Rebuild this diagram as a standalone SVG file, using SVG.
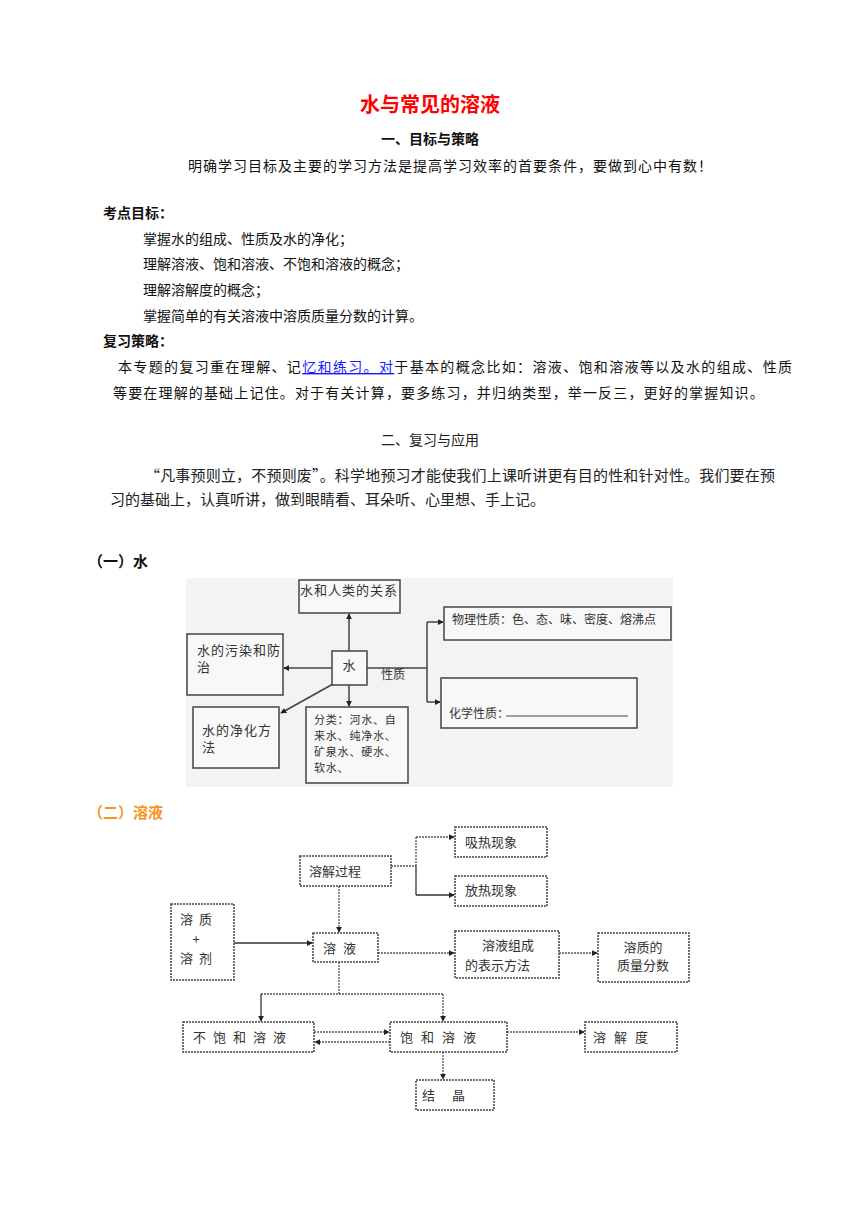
<svg xmlns="http://www.w3.org/2000/svg" width="860" height="1216" viewBox="0 0 860 1216">
<style>
text{font-family:"Noto Sans CJK SC","Noto Sans",sans-serif;fill:#111}
.b{font-weight:bold}
.p{font-size:14px}
.w{font-size:13px;fill:#333}
.ws{font-size:12px;fill:#333}
.wt{font-size:11px;fill:#333;letter-spacing:0.8px}
.s{font-size:13px;fill:#333}
.wb{fill:#f8f8f8;stroke:#444;stroke-width:1.5}
.sb{fill:#fff;stroke:#444;stroke-width:1.5;stroke-dasharray:2 1}
.wc{fill:none;stroke:#444;stroke-width:1.5}
.sc{fill:none;stroke:#555;stroke-width:1.3;stroke-dasharray:2 1}
.ss{fill:none;stroke:#333;stroke-width:1.3}
</style>
<defs>
<marker id="a" viewBox="0 0 8 8" refX="7" refY="4" markerWidth="6" markerHeight="6" markerUnits="userSpaceOnUse" orient="auto"><path d="M0,0 L8,4 L0,8 z" fill="#222"/></marker>
</defs>
<rect width="860" height="1216" fill="#fff"/>
<!-- header text -->
<text x="430" y="112" text-anchor="middle" class="b" style="font-size:20px;fill:#f00">水与常见的溶液</text>
<text x="430" y="144" text-anchor="middle" class="b" style="font-size:14px">一、目标与策略</text>
<text x="188" y="171" class="p" textLength="524" lengthAdjust="spacing">明确学习目标及主要的学习方法是提高学习效率的首要条件，要做到心中有数！</text>
<text x="103" y="218" class="p b">考点目标：</text>
<text x="143" y="244" class="p">掌握水的组成、性质及水的净化；</text>
<text x="143" y="269" class="p">理解溶液、饱和溶液、不饱和溶液的概念；</text>
<text x="143" y="295" class="p">理解溶解度的概念；</text>
<text x="143" y="321" class="p">掌握简单的有关溶液中溶质质量分数的计算。</text>
<text x="103" y="346" class="p b">复习策略：</text>
<text x="118" y="372" class="p" style="letter-spacing:1.35px">本专题的复习重在理解、记<tspan style="fill:#1a1aff;text-decoration:underline">忆和练习。对</tspan>于基本的概念比如：溶液、饱和溶液等以及水的组成、性质</text>
<text x="113" y="398" class="p" style="letter-spacing:1.16px">等要在理解的基础上记住。对于有关计算，要多练习，并归纳类型，举一反三，更好的掌握知识。</text>
<text x="430" y="445" text-anchor="middle" style="font-size:14px;fill:#222">二、复习与应用</text>
<text x="145" y="481" style="font-size:15px;fill:#222" textLength="630" lengthAdjust="spacing">“凡事预则立，不预则废”。科学地预习才能使我们上课听讲更有目的性和针对性。我们要在预</text>
<text x="110" y="505" style="font-size:15px;fill:#222" textLength="435" lengthAdjust="spacing">习的基础上，认真听讲，做到眼睛看、耳朵听、心里想、手上记。</text>
<text x="88" y="567" class="b" style="font-size:15px">（一）水</text>
<text x="88" y="818" class="b" style="font-size:15px;fill:#f7941d">（二）溶液</text>

<!-- water diagram -->
<rect x="186" y="578" width="487" height="209" fill="#f3f3f3"/>
<g id="connectors-water">
<line x1="349" y1="651" x2="349" y2="614" class="wc" marker-end="url(#a)"/>
<line x1="332" y1="668" x2="284" y2="668" class="wc" marker-end="url(#a)"/>
<line x1="333" y1="684" x2="281" y2="713" class="wc" marker-end="url(#a)"/>
<line x1="349" y1="685" x2="349" y2="706" class="wc" marker-end="url(#a)"/>
<path d="M367,668 H427 M427,622 V702" class="wc"/>
<line x1="427" y1="622" x2="443" y2="622" class="wc" marker-end="url(#a)"/>
<line x1="427" y1="702" x2="440" y2="702" class="wc" marker-end="url(#a)"/>
<text x="381" y="679" class="ws">性质</text>
</g>
<g id="w-relation"><rect x="299" y="580" width="101" height="33" class="wb"/><text x="300" y="595" class="w" style="letter-spacing:1px">水和人类的关系</text></g>
<g id="w-pollution"><rect x="187" y="634" width="96" height="61" class="wb"/><text x="197" y="655" class="w" style="letter-spacing:1px">水的污染和防</text><text x="197" y="672" class="w">治</text></g>
<g id="w-water"><rect x="332" y="651" width="35" height="34" class="wb"/><text x="349" y="670" text-anchor="middle" class="w">水</text></g>
<g id="w-purify"><rect x="193" y="707" width="86" height="61" class="wb"/><text x="202" y="735" class="w" style="letter-spacing:1px">水的净化方</text><text x="202" y="752" class="w">法</text></g>
<g id="w-class"><rect x="306" y="707" width="102" height="76" class="wb"/>
<text x="314" y="724" class="wt">分类：河水、自</text><text x="314" y="740" class="wt">来水、纯净水、</text><text x="314" y="756" class="wt">矿泉水、硬水、</text><text x="314" y="772" class="wt">软水、</text></g>
<g id="w-physical"><rect x="444" y="607" width="227" height="33" class="wb"/><text x="452" y="624" class="ws">物理性质：色、态、味、密度、熔沸点</text></g>
<g id="w-chemical"><rect x="441" y="678" width="196" height="50" class="wb"/><text x="449" y="718" class="ws">化学性质：</text><line x1="506" y1="716" x2="628" y2="716" stroke="#444" stroke-width="1"/></g>

<!-- solution diagram -->
<g id="connectors-solution">
<path d="M391,866 H416 M416,837 V866" class="sc"/>
<path d="M416,866 V895" class="ss"/>
<line x1="416" y1="837" x2="454" y2="837" class="sc" marker-end="url(#a)"/>
<line x1="416" y1="895" x2="454" y2="895" class="ss" marker-end="url(#a)"/>
<line x1="339" y1="886" x2="339" y2="932" class="sc" marker-end="url(#a)"/>
<line x1="234" y1="943" x2="312" y2="943" class="ss" marker-end="url(#a)"/>
<line x1="378" y1="953" x2="454" y2="953" class="sc" marker-end="url(#a)"/>
<line x1="559" y1="953" x2="597" y2="953" class="sc" marker-end="url(#a)"/>
<path d="M339,962 V994 M261,994 H443" class="sc"/>
<line x1="261" y1="994" x2="261" y2="1021" class="ss" marker-end="url(#a)"/>
<line x1="443" y1="994" x2="443" y2="1021" class="sc" marker-end="url(#a)"/>
<line x1="314" y1="1032" x2="389" y2="1032" class="sc" marker-end="url(#a)"/>
<line x1="390" y1="1042" x2="315" y2="1042" class="sc" marker-end="url(#a)"/>
<line x1="507" y1="1032" x2="584" y2="1032" class="sc" marker-end="url(#a)"/>
<line x1="443" y1="1052" x2="443" y2="1079" class="sc" marker-end="url(#a)"/>
</g>
<g id="s-process"><rect x="300" y="856" width="91" height="30" class="sb"/><text x="309" y="876" class="s">溶解过程</text></g>
<g id="s-absorb"><rect x="455" y="827" width="92" height="30" class="sb"/><text x="465" y="847" class="s">吸热现象</text></g>
<g id="s-release"><rect x="455" y="876" width="92" height="30" class="sb"/><text x="465" y="895" class="s">放热现象</text></g>
<g id="s-solute"><rect x="171" y="904" width="63" height="76" class="sb"/><text x="180" y="924" class="s" style="letter-spacing:6px">溶质</text><text x="196" y="944" text-anchor="middle" class="s">+</text><text x="180" y="963" class="s" style="letter-spacing:6px">溶剂</text></g>
<g id="s-solution"><rect x="313" y="933" width="65" height="29" class="sb"/><text x="323" y="953" class="s" style="letter-spacing:7px">溶液</text></g>
<g id="s-composition"><rect x="455" y="931" width="104" height="47" class="sb"/><text x="482" y="950" class="s">溶液组成</text><text x="465" y="970" class="s">的表示方法</text></g>
<g id="s-fraction"><rect x="598" y="933" width="91" height="49" class="sb"/><text x="643" y="952" text-anchor="middle" class="s">溶质的</text><text x="643" y="970" text-anchor="middle" class="s">质量分数</text></g>
<g id="s-unsat"><rect x="183" y="1022" width="131" height="30" class="sb"/><text x="193" y="1042" class="s" style="letter-spacing:7px">不饱和溶液</text></g>
<g id="s-sat"><rect x="390" y="1022" width="117" height="30" class="sb"/><text x="400" y="1042" class="s" style="letter-spacing:8px">饱和溶液</text></g>
<g id="s-solubility"><rect x="585" y="1022" width="92" height="30" class="sb"/><text x="593" y="1042" class="s" style="letter-spacing:8px">溶解度</text></g>
<g id="s-crystal"><rect x="416" y="1080" width="78" height="30" class="sb"/><text x="422" y="1100" class="s" style="letter-spacing:17px">结晶</text></g>
</svg>
